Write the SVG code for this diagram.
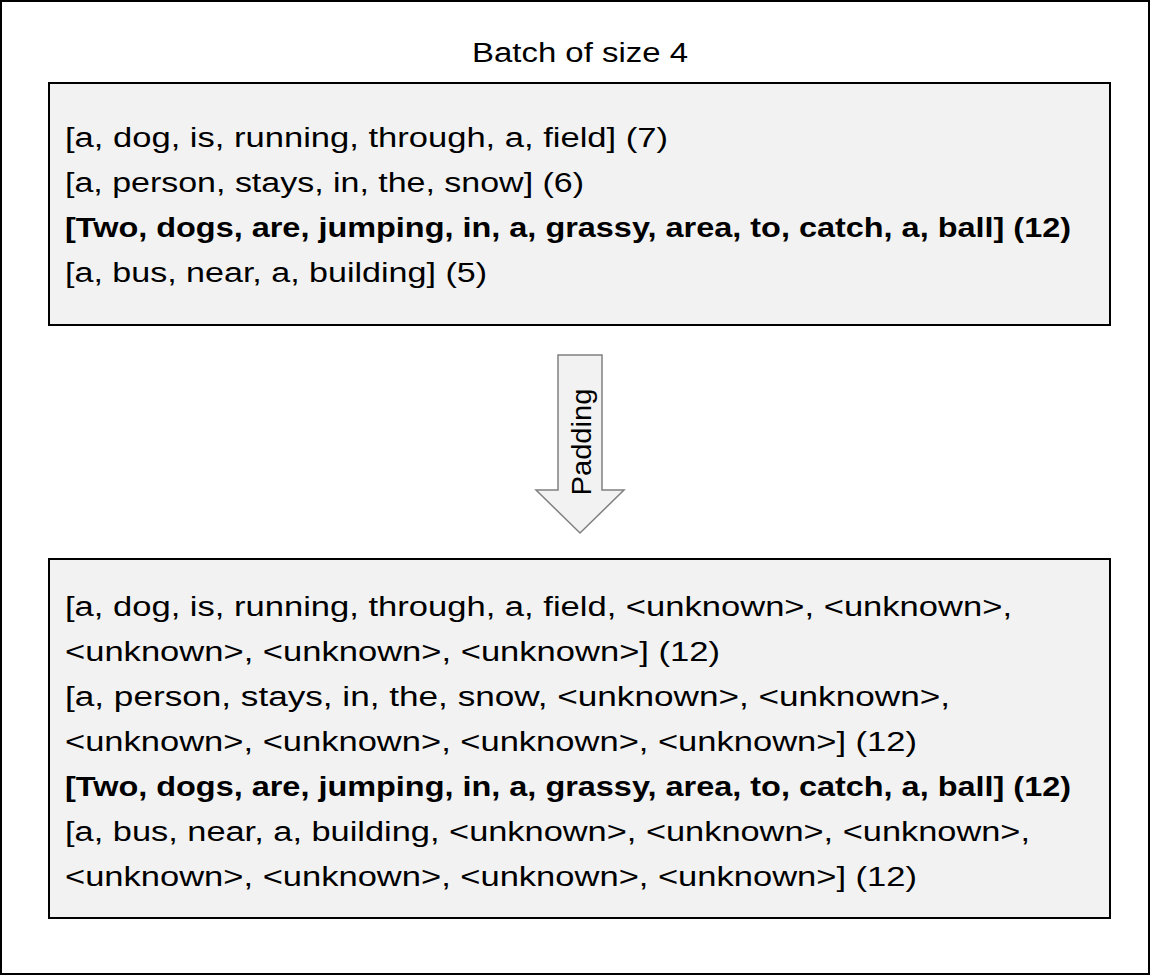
<svg xmlns="http://www.w3.org/2000/svg" width="1151" height="976" viewBox="0 0 1151 976">
<style>
.t{font-family:"Liberation Sans",Arial,sans-serif;font-size:27px;fill:#000}
.b{font-weight:bold}
.box{fill:#f2f2f2;stroke:#000;stroke-width:2}
</style>
<rect x="1" y="1" width="1148" height="973" fill="#fff" stroke="#000" stroke-width="2"/>
<text class="t" x="580" y="62" text-anchor="middle" textLength="216" lengthAdjust="spacingAndGlyphs">Batch of size 4</text>
<g id="batch">
<rect class="box" x="49" y="83" width="1061" height="242"/>
<text class="t" x="65" y="147" textLength="603" lengthAdjust="spacingAndGlyphs">[a, dog, is, running, through, a, field] (7)</text>
<text class="t" x="65" y="192" textLength="519" lengthAdjust="spacingAndGlyphs">[a, person, stays, in, the, snow] (6)</text>
<text class="t b" x="65" y="237" textLength="1006" lengthAdjust="spacingAndGlyphs">[Two, dogs, are, jumping, in, a, grassy, area, to, catch, a, ball] (12)</text>
<text class="t" x="65" y="282" textLength="422" lengthAdjust="spacingAndGlyphs">[a, bus, near, a, building] (5)</text>
</g>
<g id="connectors">
<g id="padding-arrow">
<path d="M558,355 H602 V490 H624 L580,533 L536,490 H558 Z" fill="#f2f2f2" stroke="#808080" stroke-width="1.5"/>
<text class="t" transform="translate(591,442) rotate(-90)" text-anchor="middle" textLength="107" lengthAdjust="spacingAndGlyphs">Padding</text>
</g>
</g>
<g id="padded">
<rect class="box" x="49" y="559" width="1061" height="359"/>
<text class="t" x="65" y="616" textLength="947" lengthAdjust="spacingAndGlyphs">[a, dog, is, running, through, a, field, &lt;unknown&gt;, &lt;unknown&gt;,</text>
<text class="t" x="65" y="661" textLength="655" lengthAdjust="spacingAndGlyphs">&lt;unknown&gt;, &lt;unknown&gt;, &lt;unknown&gt;] (12)</text>
<text class="t" x="65" y="706" textLength="885" lengthAdjust="spacingAndGlyphs">[a, person, stays, in, the, snow, &lt;unknown&gt;, &lt;unknown&gt;,</text>
<text class="t" x="65" y="751" textLength="852" lengthAdjust="spacingAndGlyphs">&lt;unknown&gt;, &lt;unknown&gt;, &lt;unknown&gt;, &lt;unknown&gt;] (12)</text>
<text class="t b" x="65" y="796" textLength="1006" lengthAdjust="spacingAndGlyphs">[Two, dogs, are, jumping, in, a, grassy, area, to, catch, a, ball] (12)</text>
<text class="t" x="65" y="841" textLength="965" lengthAdjust="spacingAndGlyphs">[a, bus, near, a, building, &lt;unknown&gt;, &lt;unknown&gt;, &lt;unknown&gt;,</text>
<text class="t" x="65" y="886" textLength="852" lengthAdjust="spacingAndGlyphs">&lt;unknown&gt;, &lt;unknown&gt;, &lt;unknown&gt;, &lt;unknown&gt;] (12)</text>
</g>
</svg>
